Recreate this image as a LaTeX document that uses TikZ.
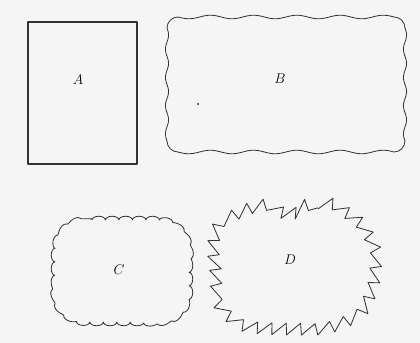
\documentclass[tikz,border=0pt]{standalone}
\usepackage{amsmath,amssymb}
\usepackage{tikz}
\usetikzlibrary{decorations.pathmorphing,decorations.pathreplacing}

\begin{document}
\begin{tikzpicture}[x=0.03cm,y=-0.03cm,
  outline/.style={draw=black!80, line width=0.7pt, line join=round},
  letter/.style={font=\large}]
% Sheet
\fill[black!4] (0,0) rectangle (420,343);
\useasboundingbox (0,0) rectangle (420,343);
% A: plain rectangle
\draw[outline, line width=0.95pt] (28,22) rectangle (137,164);
\node[letter] (A) at (78,80) {$A$};
% B: wavy rectangle, one sine per side
\draw[outline]
  plot[smooth, samples=60, domain=178:394] (\x,{17+1.8*sin(8.33*(\x-178))})
  .. controls (400,17) and (405,22) .. (405,28)
  -- plot[smooth, samples=40, domain=28:141] ({405+1.6*sin(12.74*(\x-28))},\x)
  .. controls (405,147) and (400,152) .. (394,152)
  -- plot[smooth, samples=60, domain=394:178] (\x,{152+1.8*sin(8.33*(\x-394))})
  .. controls (172,152) and (167,147) .. (167,141)
  -- plot[smooth, samples=40, domain=141:28] ({167+1.6*sin(12.74*(\x-141))},\x)
  .. controls (167,22) and (172,17) .. (178,17) -- cycle;
\node[letter] (B) at (280,79) {$B$};
\fill[black!80] (198,104) circle (1pt);
% C: scalloped outline
\draw[outline, decorate, decoration={bumps, segment length=23pt, amplitude=3.2pt}]
  (92,220) -- (152,220) .. controls (175,220) and (189,234) .. (189,256)
  -- (189,288) .. controls (189,309) and (175,322) .. (152,322)
  -- (92,322) .. controls (69,322) and (55,309) .. (55,288)
  -- (55,256) .. controls (55,234) and (69,220) .. (92,220) -- cycle;
\node[letter] (C) at (119,270) {$C$};
% D: spiky outline
\draw[outline, decorate, decoration={saw, segment length=12.2pt, amplitude=10pt}]
  plot[smooth cycle] coordinates {(284,218) (318,209) (348,222)
  (366,246) (368,275) (358,304) (330,320) (290,323) (250,320) (228,304) (222,275)
  (220,250) (226,230) (255,214)};
\node[letter] (D) at (290,260) {$D$};
\end{tikzpicture}
\end{document}
